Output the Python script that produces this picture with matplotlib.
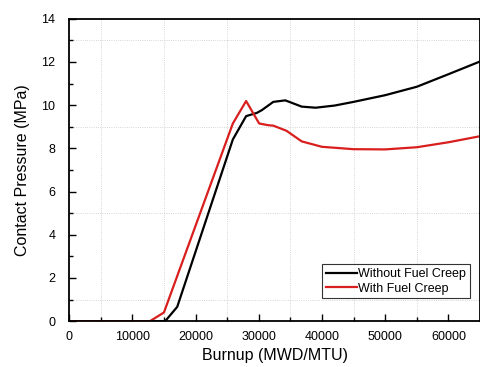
import matplotlib
matplotlib.use("Agg")
import matplotlib.pyplot as plt
from matplotlib.ticker import MultipleLocator

plt.rcParams['font.family'] = ['Liberation Sans', 'DejaVu Sans']

x_without = [0, 10000, 15200, 17100, 25900, 28000, 29700, 30500, 32300, 34200, 36800, 39000, 42000, 45000, 50000, 55000, 60000, 65000]
y_without = [0, 0, 0, 0.66, 8.41, 9.49, 9.64, 9.77, 10.15, 10.22, 9.93, 9.88, 9.98, 10.15, 10.46, 10.85, 11.43, 12.02]

x_with = [0, 10000, 12800, 15000, 25900, 28000, 30060, 31500, 32300, 34400, 36800, 40000, 45000, 50000, 55000, 60000, 65000]
y_with = [0, 0, 0, 0.40, 9.15, 10.19, 9.15, 9.07, 9.05, 8.81, 8.32, 8.07, 7.96, 7.95, 8.05, 8.28, 8.56]

labels = ["Without Fuel Creep", "With Fuel Creep"]

fig = plt.figure(figsize=(4.8, 3.67), dpi=100)
ax = fig.add_axes([0.144, 0.125, 0.856, 0.824])

ax.plot(x_without, y_without, color='black', lw=1.6, label=labels[0])
ax.plot(x_with, y_with, color='#d91e1e', lw=1.6, label=labels[1])

ax.set_xlim(0, 65000)
ax.set_ylim(0, 14)
ax.xaxis.set_major_locator(MultipleLocator(10000))
ax.xaxis.set_minor_locator(MultipleLocator(5000))
ax.yaxis.set_major_locator(MultipleLocator(2))
ax.yaxis.set_minor_locator(MultipleLocator(1))
ax.tick_params(which='both', direction='in', labelsize=9, width=1.0)
ax.tick_params(which='major', length=5)
ax.tick_params(which='minor', length=3)
ax.tick_params(axis='y', which='major', pad=10)
ax.tick_params(axis='x', which='major', pad=7)

for xv in [5000, 15000, 25000, 35000, 45000, 55000]:
    ax.axvline(xv, color='#c8c8c8', lw=0.6, ls=':', zorder=0)
for yv in [1, 5, 9, 13]:
    ax.axhline(yv, color='#c8c8c8', lw=0.6, ls=':', zorder=0)

for s in ax.spines.values():
    s.set_linewidth(1.3)

ax.set_xlabel("Burnup (MWD/MTU)", fontsize=11.5, labelpad=4)
ax.set_ylabel("Contact Pressure (MPa)", fontsize=11.5, labelpad=8)

leg = ax.legend(loc='lower right', bbox_to_anchor=(0.975, 0.075), fontsize=9, frameon=True,
                fancybox=False, edgecolor='black', handlelength=2.5, handletextpad=0.1,
                borderpad=0.3, labelspacing=0.2, borderaxespad=0)
leg.get_frame().set_linewidth(0.8)

fig.savefig("out.png", dpi=100)
